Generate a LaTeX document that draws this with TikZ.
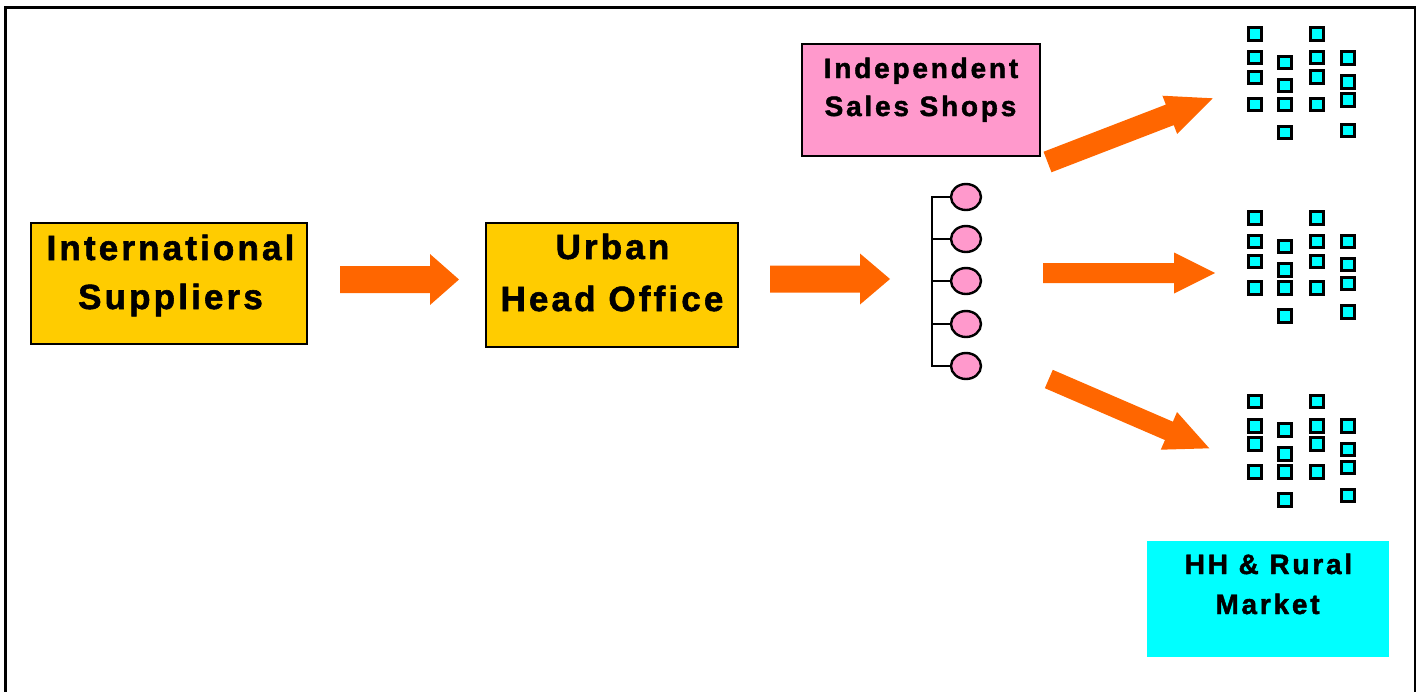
\documentclass[tikz,border=0pt]{standalone}
\usepackage{fontspec}
\setmainfont{Liberation Sans}
\newfontfamily\bigfont{Liberation Sans}[LetterSpace=9,FakeBold=1.6]
\newfontfamily\smallfont{Liberation Sans}[LetterSpace=10,FakeBold=1.6]
\usetikzlibrary{calc,shapes.geometric}

\definecolor{gold}{HTML}{FFCC00}
\definecolor{shoppink}{HTML}{FF99CC}
\definecolor{marketcyan}{HTML}{00FFFF}
\definecolor{flow}{HTML}{FF6600}

% block arrow: #1 tail, #2 tip, #3 shaft half-width, #4 head half-width, #5 head length
\newcommand\orangearrow[5]{%
  \coordinate (#1-head) at ($(#2)!#5!(#1)$);
  \fill[flow]
    ($(#1)!#3!90:(#2)$) -- ($(#1-head)!#3!-90:(#1)$) -- ($(#1-head)!#4!-90:(#1)$)
    -- (#2)
    -- ($(#1-head)!#4!90:(#1)$) -- ($(#1-head)!#3!90:(#1)$) -- ($(#1)!#3!-90:(#2)$) -- cycle;}

\begin{document}
\begin{tikzpicture}[x=1pt,y=-1pt,
  box/.style={rectangle,inner sep=0pt,draw=black,line width=2.4pt},
  bigtext/.style={anchor=base,inner sep=0pt,font=\bigfont\bfseries\fontsize{35}{40}\selectfont},
  smalltext/.style={anchor=base,inner sep=0pt,font=\smallfont\bfseries\fontsize{28}{34}\selectfont},
  outlet/.style={ellipse,inner sep=0pt,draw=black,line width=2.4pt,fill=shoppink,
    minimum width=30pt,minimum height=26pt},
  wire/.style={draw=black,line width=2.2pt},
  stall/.style={draw=black,line width=3pt,fill=marketcyan}]

\useasboundingbox (0,0) rectangle (1421,691);

% outer frame (open at the bottom)
\draw[line width=2.3pt] (5.5,700) -- (5.5,7.5) -- (1415,7.5) -- (1415,700);

% boxes
\node[box,fill=gold,minimum width=275.6pt,minimum height=120.6pt] (intl) at (169,283.5) {};
\node[bigtext] (intl-1) at (170.5,260) {International};
\node[bigtext] (intl-2) at (170.5,309) {Suppliers};

\node[box,fill=gold,minimum width=251.6pt,minimum height=123.6pt] (urban) at (612,285) {};
\node[bigtext] (urban-1) at (612.5,259) {Urban};
\node[bigtext] (urban-2) at (612,311) {Head Office};

\node[box,fill=shoppink,minimum width=237.6pt,minimum height=111.6pt] (shops) at (921,100) {};
\node[smalltext] (shops-1) at (921,78) {Independent};
\node[smalltext] (shops-2) at (920.5,116) {Sales Shops};

\node[rectangle,inner sep=0pt,fill=marketcyan,minimum width=242pt,minimum height=116pt] (market) at (1268,599) {};
\node[smalltext] (market-1) at (1268.5,574) {HH \& Rural};
\node[smalltext] (market-2) at (1267.5,614) {Market};

% outlets on a common trunk
\foreach \i/\y in {1/197,2/239,3/281,4/324,5/366}
  \node[outlet] (c\i) at (966,\y) {};
\coordinate (trunk) at (932,0);
\draw[wire] (c1.west) -- (c1.west -| trunk) -- (c5.west -| trunk) -- (c5.west);
\foreach \i in {2,3,4}
  \draw[wire] (c\i.west) -- (c\i.west -| trunk);

% flow arrows
\coordinate (a1-tail) at (340,279.5);  \coordinate (a1-tip) at (459,279.5);
\coordinate (a2-tail) at (770,279);    \coordinate (a2-tip) at (890,279);
\coordinate (a3-tail) at (1043,273);   \coordinate (a3-tip) at (1215,273);
\coordinate (a4-tail) at (1047.5,162); \coordinate (a4-tip) at (1212.7,98.3);
\coordinate (a5-tail) at (1048.8,379); \coordinate (a5-tip) at (1209.3,448.3);
\orangearrow{a1-tail}{a1-tip}{13.5pt}{25.5pt}{29pt}
\orangearrow{a2-tail}{a2-tip}{13.5pt}{25.5pt}{30pt}
\orangearrow{a3-tail}{a3-tip}{10pt}{20.5pt}{41pt}
\orangearrow{a4-tail}{a4-tip}{11pt}{20.5pt}{46pt}
\orangearrow{a5-tail}{a5-tip}{10pt}{20.5pt}{44pt}

% market stalls: three clusters of small squares in four columns
\foreach \x/\ylist in {
    1255/{34,57.7,77.3,104.5,218,241.7,261.3,288,401.7,425.8,443.8,472},
    1285/{62.3,85.7,104.3,132.7,246.7,270,288,316,430,454,472,500},
    1317/{34,57.7,77,104.7,218,241.7,261.3,288,401.7,425.8,443.8,472},
    1348/{58,82,100,130.3,241.7,264.5,283.3,312,425.8,449.5,467.5,495.7}}
  \foreach \y in \ylist
    \filldraw[stall] (\x-6.7,\y-6.2) rectangle (\x+6.7,\y+6.2);

\end{tikzpicture}
\end{document}
